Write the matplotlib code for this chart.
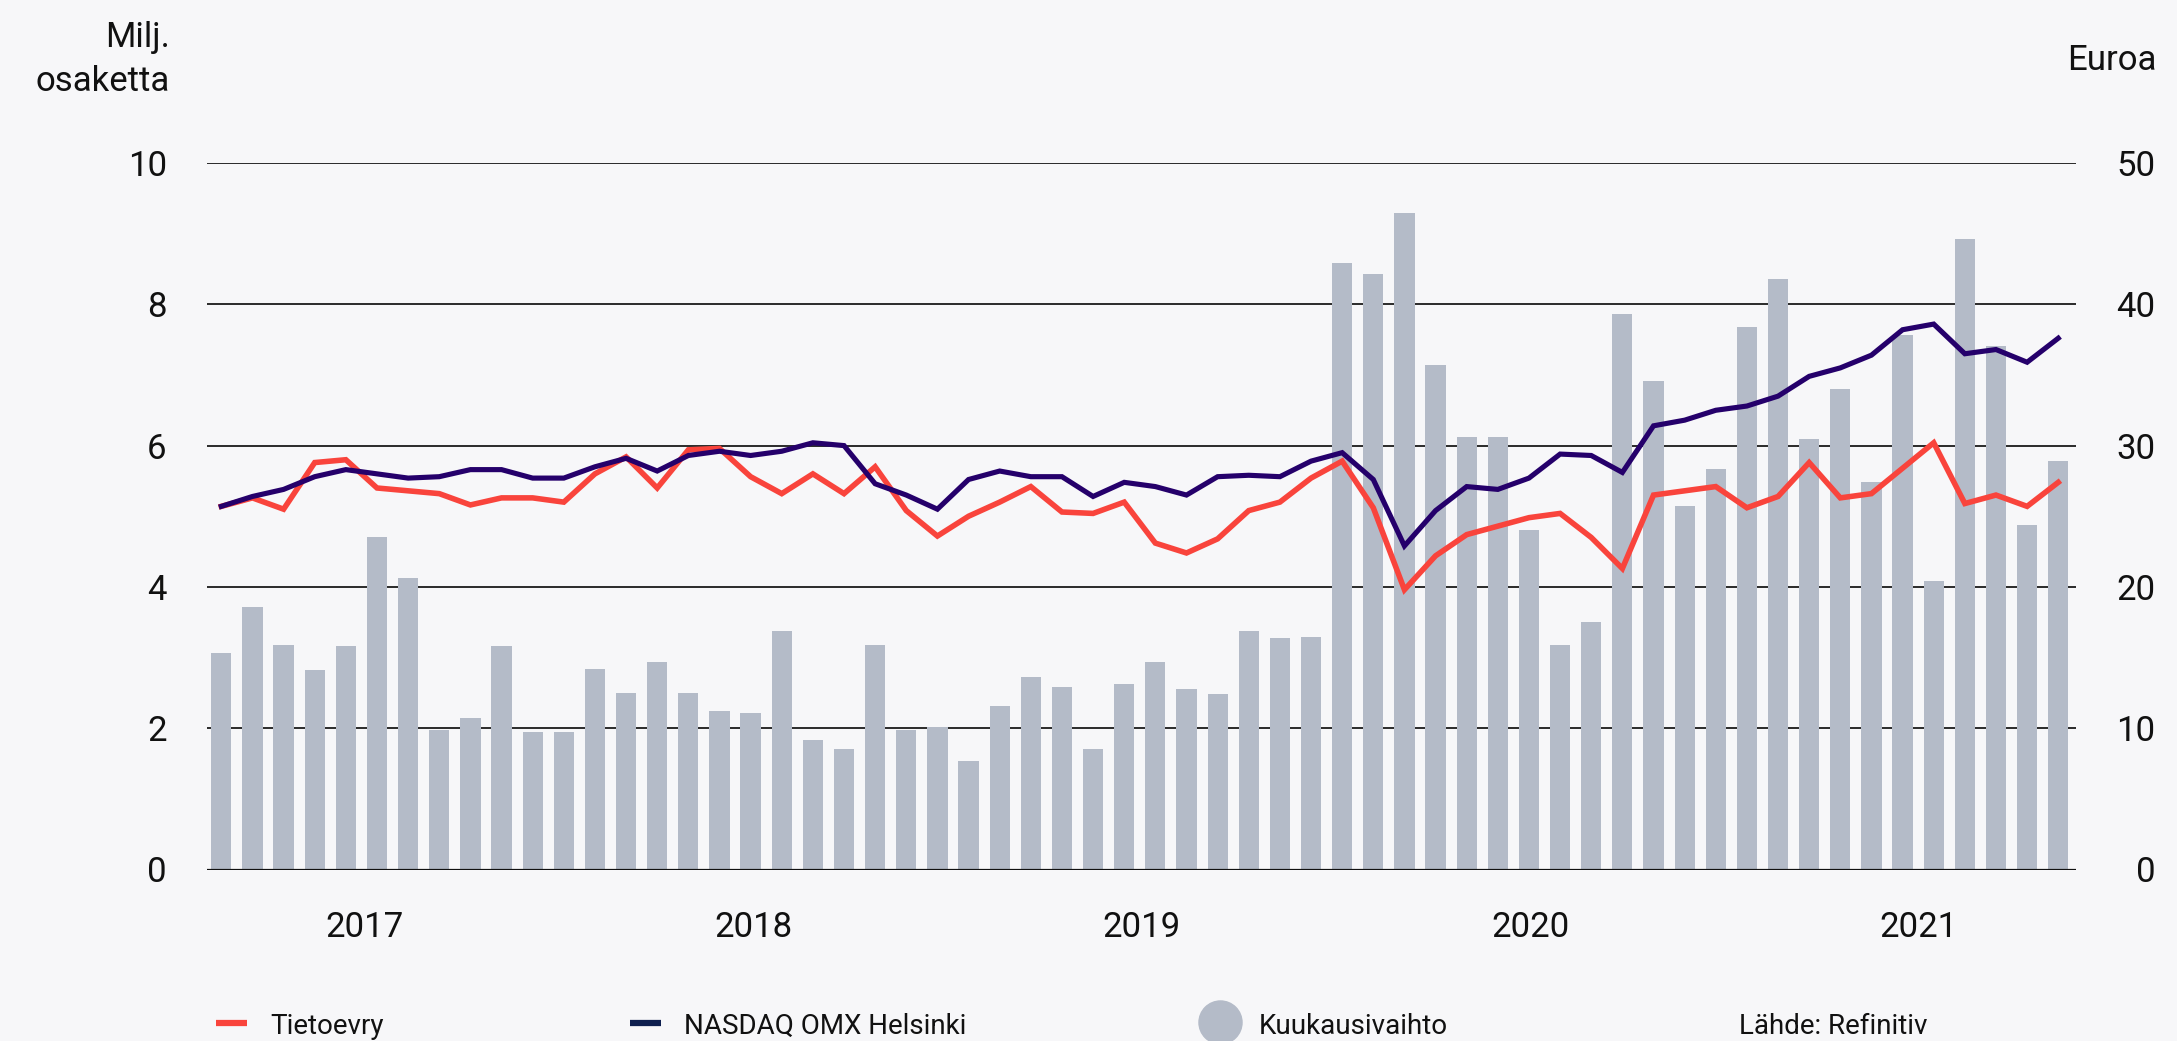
import matplotlib.pyplot as plt
from matplotlib.lines import Line2D
import numpy as np

# monthly turnover, million shares (left axis)
volume = [3.07, 3.72, 3.18, 2.82, 3.16, 4.70, 4.13, 1.98, 2.14, 3.16,
          1.94, 1.94, 2.84, 2.50, 2.93, 2.50, 2.25, 2.21, 3.38, 1.83,
          1.71, 3.18, 1.98, 2.02, 1.53, 2.32, 2.73, 2.59, 1.71, 2.62,
          2.93, 2.55, 2.48, 3.38, 3.27, 3.29, 8.58, 8.43, 9.29, 7.14,
          6.12, 6.12, 4.81, 3.18, 3.51, 7.86, 6.92, 5.14, 5.67, 7.68,
          8.36, 6.09, 6.80, 5.48, 7.57, 4.08, 8.93, 7.41, 4.88, 5.78]

# share price, euros (right axis)
tieto = [25.7, 26.3, 25.5, 28.8, 29.0, 27.0, 26.8, 26.6, 25.8, 26.3,
         26.3, 26.0, 28.0, 29.2, 27.0, 29.7, 29.8, 27.8, 26.6, 28.0,
         26.6, 28.5, 25.4, 23.6, 25.0, 26.0, 27.1, 25.3, 25.2, 26.0,
         23.1, 22.4, 23.4, 25.4, 26.0, 27.7, 28.9, 25.6, 19.8, 22.2,
         23.7, 24.3, 24.9, 25.2, 23.5, 21.3, 26.5, 26.8, 27.1, 25.6,
         26.4, 28.8, 26.3, 26.6, 28.4, 30.2, 25.9, 26.5, 25.7, 27.4]

# NASDAQ OMX Helsinki, rebased to the euro axis
nasdaq = [25.7, 26.4, 26.9, 27.8, 28.3, 28.0, 27.7, 27.8, 28.3, 28.3,
          27.7, 27.7, 28.5, 29.1, 28.2, 29.3, 29.6, 29.3, 29.6, 30.2,
          30.0, 27.3, 26.5, 25.5, 27.6, 28.2, 27.8, 27.8, 26.4, 27.4,
          27.1, 26.5, 27.8, 27.9, 27.8, 28.9, 29.5, 27.6, 22.9, 25.4,
          27.1, 26.9, 27.7, 29.4, 29.3, 28.1, 31.4, 31.8, 32.5, 32.8,
          33.5, 34.9, 35.5, 36.4, 38.2, 38.6, 36.5, 36.8, 35.9, 37.6]

years = ['2017', '2018', '2019', '2020', '2021']
year_pos = [4.6, 17.08, 29.55, 42.05, 54.52]

bg = '#f7f7f9'
bar_col = '#b4bbc8'
red = '#f9443c'
navy = '#25006b'
ink = '#111111'

plt.rcParams['font.family'] = ['Roboto', 'DejaVu Sans']
W, H = 2177, 1041
fig = plt.figure(figsize=(W / 100, H / 100), dpi=100, facecolor=bg)

def fx(px):
    return px / W

def fy(py):
    return 1 - py / H

ax = fig.add_axes([fx(207), fy(869.5), fx(2076) - fx(207), fy(163) - fy(869.5)])
ax.set_facecolor(bg)
x = np.arange(len(volume))
ax.bar(x, volume, width=0.65, color=bar_col, zorder=2)
ax.set_xlim(-0.46, 59.57)
ax.set_ylim(0, 10)
ax.set_yticks([0, 2, 4, 6, 8, 10])
ax.yaxis.grid(True, color='#2a2a2a', lw=1.4, zorder=0)
ax.set_axisbelow(True)
ax.axhline(0, color=ink, lw=1.6, zorder=3)
for s in ax.spines.values():
    s.set_visible(False)
ax.tick_params(axis='y', length=0, pad=29, labelsize=25, colors=ink)
ax.set_xticks(year_pos, years)
ax.tick_params(axis='x', length=0, pad=30, labelsize=25, colors=ink)

ax2 = ax.twinx()
ax2.plot(x, tieto, color=red, lw=4.0, solid_joinstyle='miter', zorder=4)
ax2.plot(x, nasdaq, color=navy, lw=3.7, solid_joinstyle='miter', zorder=5)
ax2.set_ylim(0, 50)
ax2.set_yticks([0, 10, 20, 30, 40, 50])
for s in ax2.spines.values():
    s.set_visible(False)
ax2.tick_params(axis='y', length=0, pad=57, labelsize=25, colors=ink)
for lab in ax2.get_yticklabels():
    lab.set_horizontalalignment('right')

# axis titles
fig.text(fx(170), fy(47), 'Milj.', ha='right', va='baseline', fontsize=25, color=ink)
fig.text(fx(170), fy(91), 'osaketta', ha='right', va='baseline', fontsize=25, color=ink)
fig.text(fx(2157), fy(70), 'Euroa', ha='right', va='baseline', fontsize=25, color=ink)

# legend along the bottom
fig.add_artist(Line2D([fx(216), fx(247)], [fy(1023), fy(1023)], color=red, lw=4.5,
                      solid_capstyle='butt', transform=fig.transFigure))
fig.text(fx(270), fy(1034), 'Tietoevry', ha='left', va='baseline', fontsize=20, color=ink)
fig.add_artist(Line2D([fx(630), fx(661)], [fy(1023), fy(1023)], color='#0e1f4f', lw=4.5,
                      solid_capstyle='butt', transform=fig.transFigure))
fig.text(fx(684), fy(1034), 'NASDAQ OMX Helsinki', ha='left', va='baseline', fontsize=20, color=ink)
fig.add_artist(Line2D([fx(1220)], [fy(1022)], marker='o', markersize=31, color=bar_col,
                      lw=0, transform=fig.transFigure))
fig.text(fx(1259), fy(1034), 'Kuukausivaihto', ha='left', va='baseline', fontsize=20, color=ink)
fig.text(fx(1739), fy(1034), 'Lähde: Refinitiv', ha='left', va='baseline', fontsize=20, color=ink)

fig.savefig('out.png', dpi=100, facecolor=bg)
